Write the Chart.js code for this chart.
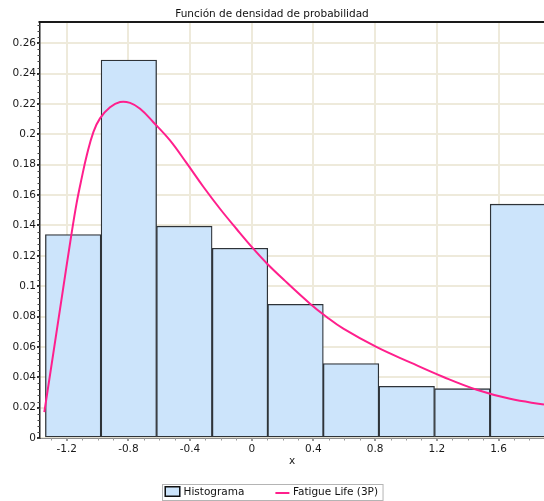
<!DOCTYPE html>
<html>
<head>
<meta charset="utf-8">
<script src="https://cdn.jsdelivr.net/npm/chart.js@4"></script>
<style>
  html, body { margin: 0; padding: 0; background: #fff; }
  canvas { display: block; }
</style>
</head>
<body>
<canvas id="chart" width="544" height="501"></canvas>
<script>
// Histogram bins: centres and density heights
const binCenters = [-1.158, -0.797, -0.437, -0.076, 0.284, 0.644, 1.005, 1.365, 1.726];
const binDensity = [0.134, 0.249, 0.1395, 0.125, 0.088, 0.049, 0.034, 0.0325, 0.154];

// Fatigue Life (3P) curve
const curveX = [-1.345, -1.287, -1.222, -1.174, -1.135, -1.102, -1.07, -1.027, -0.984, -0.919,
                -0.854, -0.789, -0.724, -0.638, -0.53, -0.422, -0.314, -0.206, -0.097, 0.01,
                0.1, 0.216, 0.378, 0.486, 0.594, 0.811, 1.027, 1.243, 1.459, 1.675, 1.895];
const curveY = [0.017, 0.0556, 0.099, 0.131, 0.155, 0.1715, 0.186, 0.2015, 0.2105, 0.2178,
                0.2213, 0.2207, 0.2168, 0.208, 0.196, 0.181, 0.1655, 0.151, 0.1375, 0.1247,
                0.1148, 0.1035, 0.0885, 0.0797, 0.072, 0.0598, 0.0498, 0.0402, 0.0318, 0.0258, 0.022];

const xTicks = [-1.2, -0.8, -0.4, 0, 0.4, 0.8, 1.2, 1.6];
const yTicks = [0, 0.02, 0.04, 0.06, 0.08, 0.1, 0.12, 0.14, 0.16, 0.18, 0.2, 0.22, 0.24, 0.26];

const FONT = 'DejaVu Sans';
const histFill = '#cce4fb';
const histBorder = '#2e3338';
const curveColor = '#ff1f8c';

Chart.defaults.font.family = FONT;
Chart.defaults.font.size = 10.5;
Chart.defaults.color = '#1a1a1a';

// frame line on top plus the small minor ticks on both axes
const axisDecor = {
  id: 'axisDecor',
  afterDraw(chart) {
    const { ctx, chartArea: a, scales: { x, y } } = chart;
    ctx.save();
    ctx.strokeStyle = '#1a1a1a';
    ctx.lineWidth = 2;
    ctx.beginPath();
    ctx.moveTo(a.left - 1.5, a.top);
    ctx.lineTo(a.right, a.top);
    ctx.stroke();

    ctx.lineWidth = 1;
    ctx.strokeStyle = '#444';
    ctx.beginPath();
    for (let i = 0; i * 0.004 <= y.max; i++) {
      const py = Math.round(y.getPixelForValue(i * 0.004)) + 0.5;
      ctx.moveTo(a.left - 2.5, py);
      ctx.lineTo(a.left, py);
    }
    ctx.stroke();
    ctx.strokeStyle = '#999';
    ctx.beginPath();
    for (let i = -2; i < 40; i++) {
      const v = -1.2 + i * 0.1;
      if (v < x.min || v > x.max) continue;
      const px = Math.round(x.getPixelForValue(v)) + 0.5;
      ctx.moveTo(px, a.bottom);
      ctx.lineTo(px, a.bottom + 2.5);
    }
    ctx.stroke();
    ctx.restore();
  }
};

// legend in a thin bordered box under the axis title
const boxedLegend = {
  id: 'boxedLegend',
  afterDraw(chart) {
    const ctx = chart.ctx;
    const hist = chart.data.datasets[0];
    const fit = chart.data.datasets[1];
    ctx.save();
    ctx.font = '10.5px "' + FONT + '"';
    const w1 = ctx.measureText(hist.label).width;
    const w2 = ctx.measureText(fit.label).width;
    const total = 2 + 16 + 3 + w1 + 31 + 14 + 3.5 + w2 + 5;
    const left = Math.round(chart.width / 2 - total / 2) + 0.5;
    const top = 484.5, h = 16;

    ctx.strokeStyle = '#b4b4b4';
    ctx.lineWidth = 1;
    ctx.strokeRect(left, top, total, h);

    let cx = left + 2;
    ctx.fillStyle = hist.backgroundColor;
    ctx.fillRect(cx, top + 1.5, 16, 11);
    ctx.strokeStyle = '#111';
    ctx.lineWidth = 1.5;
    ctx.strokeRect(cx + 0.75, top + 2.25, 14.5, 9.5);
    cx += 16 + 3;

    ctx.fillStyle = '#111';
    ctx.textBaseline = 'middle';
    ctx.textAlign = 'left';
    ctx.fillText(hist.label, cx, top + h / 2);
    cx += w1 + 31;

    ctx.strokeStyle = fit.borderColor;
    ctx.lineWidth = 2;
    ctx.beginPath();
    ctx.moveTo(cx, top + 8.5);
    ctx.lineTo(cx + 14, top + 8.5);
    ctx.stroke();
    cx += 14 + 3.5;
    ctx.fillText(fit.label, cx, top + h / 2);
    ctx.restore();
  }
};

const histData = binCenters.map((c, i) => ({ x: c, y: binDensity[i] }));
const curveData = curveX.map((v, i) => ({ x: v, y: curveY[i] }));

new Chart(document.getElementById('chart').getContext('2d'), {
  type: 'bar',
  data: {
    datasets: [
      {
        type: 'bar',
        label: 'Histograma',
        data: histData,
        backgroundColor: histFill,
        borderColor: histBorder,
        borderWidth: 1.3,
        borderSkipped: false,
        barPercentage: 1,
        categoryPercentage: 1,
        order: 1
      },
      {
        type: 'line',
        label: 'Fatigue Life (3P)',
        data: curveData,
        borderColor: curveColor,
        borderWidth: 2,
        pointRadius: 0,
        fill: false,
        tension: 0.4,
        order: 0
      }
    ]
  },
  options: {
    responsive: false,
    animation: false,
    devicePixelRatio: 1,
    layout: { padding: { top: 0, right: 0, left: 0, bottom: 28 } },
    plugins: {
      legend: { display: false },
      tooltip: { enabled: false },
      title: {
        display: true,
        text: 'Función de densidad de probabilidad',
        color: '#111',
        font: { size: 10.5, weight: 'normal' },
        padding: { top: 7.6, bottom: 1.8 }
      }
    },
    scales: {
      x: {
        type: 'linear',
        min: -1.373,
        max: 1.895,
        offset: false,
        afterFit: s => { s.height = 35; },
        afterBuildTicks: s => { s.ticks = xTicks.map(v => ({ value: v })); },
        grid: { color: '#eeeadb', lineWidth: 2, offset: false, tickLength: 3, tickColor: '#999', drawTicks: true },
        border: { color: '#8f8f8f', width: 1 },
        ticks: { padding: 2, color: '#1a1a1a', callback: v => String(+v.toFixed(3)) },
        title: { display: true, text: 'x', color: '#1a1a1a', font: { size: 10.5 }, padding: { top: 0, bottom: 5 } }
      },
      y: {
        min: 0,
        max: 0.274,
        afterFit: s => { s.width = 40; },
        afterBuildTicks: s => { s.ticks = yTicks.map(v => ({ value: v })); },
        grid: { color: '#eeeadb', lineWidth: 2, tickLength: 3, tickColor: '#333' },
        border: { color: '#1f1f1f', width: 1.5 },
        ticks: { padding: 1, color: '#1a1a1a', callback: v => String(+v.toFixed(3)) }
      }
    }
  },
  plugins: [axisDecor, boxedLegend]
});
</script>
</body>
</html>
